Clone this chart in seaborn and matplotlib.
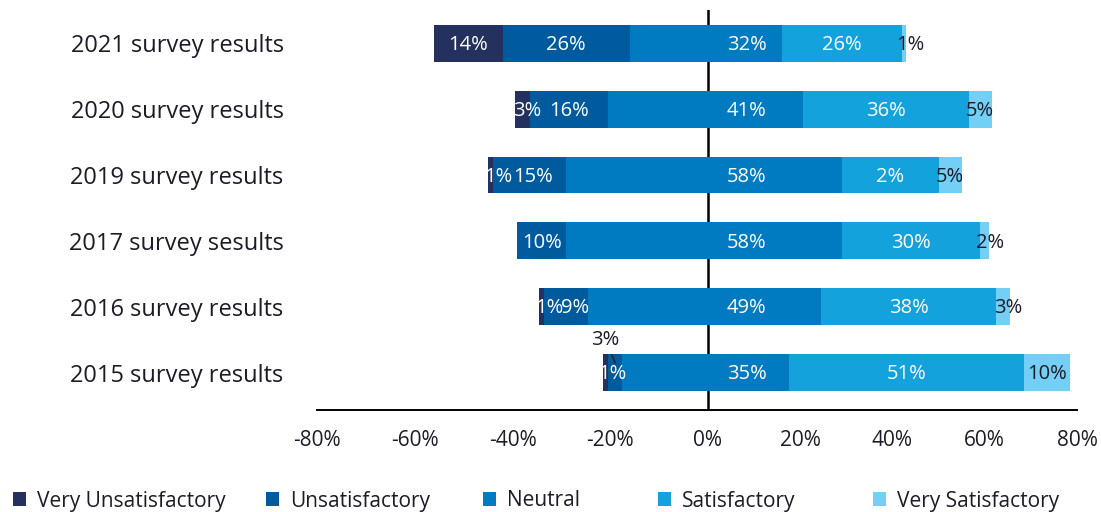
import numpy as np
import matplotlib
matplotlib.use("Agg")
import matplotlib.pyplot as plt
from matplotlib.patches import Patch
from matplotlib.ticker import FuncFormatter, NullLocator
import seaborn as sns

# ---------------- data ----------------
surveys = ["2021 survey results", "2020 survey results", "2019 survey results",
           "2017 survey sesults", "2016 survey results", "2015 survey results"]
very_unsat = [14, 3, 1, 0, 1, 1]
unsat = [26, 16, 15, 10, 9, 3]
neutral = [32, 41, 58, 58, 49, 35]
sat = [26, 36, 21, 30, 38, 51]
very_sat = [1, 5, 5, 2, 3, 10]

very_unsat_labels = ["14%", "3%", "1%", "", "1%", "1%"]
unsat_labels = ["26%", "16%", "15%", "10%", "9%", "3%"]
neutral_labels = ["32%", "41%", "58%", "58%", "49%", "35%"]
sat_labels = ["26%", "36%", "2%", "30%", "38%", "51%"]
very_sat_labels = ["1%", "5%", "5%", "2%", "3%", "10%"]

categories = ["Very Unsatisfactory", "Unsatisfactory", "Neutral",
              "Satisfactory", "Very Satisfactory"]
xticks = [-80, -60, -40, -20, 0, 20, 40, 60, 80]

# ---------------- style ----------------
colors = ["#24305e", "#005a9e", "#007bc1", "#14a2dc", "#74cff6"]
text_dark = "#1c1c28"

sns.set_style("white")
plt.rcParams["font.family"] = ["Open Sans", "DejaVu Sans"]

W, H = 1101, 512
left_px, zero_px, right_px = 317, 708, 1077
fig = plt.figure(figsize=(W / 100, H / 100), dpi=100)
ax = fig.add_axes([left_px / W, 1 - 410 / H, (right_px - left_px) / W, 400 / H])

vu = np.array(very_unsat, float)
u = np.array(unsat, float)
n = np.array(neutral, float)
s = np.array(sat, float)
vs = np.array(very_sat, float)

half = n / 2
left_neutral = -half
left_unsat = -(half + u)
left_vu = -(half + u + vu)
right_neutral = half
right_sat = half + s
right_vs = half + s + vs

layers = [(left_vu, colors[0]), (left_unsat, colors[1]), (left_neutral, colors[2]),
          (right_vs, colors[4]), (right_sat, colors[3]), (right_neutral, colors[2])]
for vals, col in layers:
    sns.barplot(x=vals, y=surveys, color=col, orient="h", width=0.56,
                saturation=1, errorbar=None, linewidth=0, ax=ax)

# piecewise-linear axis (left side is slightly stretched in the reference)
r = (zero_px - left_px) / (right_px - zero_px)


def fwd(x):
    x = np.asarray(x, float)
    return np.where(x < 0, x * r, x)


def inv(y):
    y = np.asarray(y, float)
    return np.where(y < 0, y / r, y)


ax.set_xscale("function", functions=(fwd, inv))
ax.set_xlim(-80, 80)
ax.set_xticks(xticks)
ax.xaxis.set_major_formatter(FuncFormatter(lambda v, p: f"{v:.0f}%"))
ax.xaxis.set_minor_locator(NullLocator())
ax.set_ylim(5.568, -0.506)

ax.axvline(0, color="black", lw=1.8, zorder=0.5)

for sp in ["top", "right", "left"]:
    ax.spines[sp].set_visible(False)
ax.spines["bottom"].set_color("black")
ax.spines["bottom"].set_linewidth(1.4)

ax.set_xlabel("")
ax.set_ylabel("")
ax.tick_params(axis="y", length=0, pad=24, labelsize=17, labelcolor=text_dark)
ax.tick_params(axis="x", length=13, width=1.3, pad=1.2, labelsize=15,
               direction="out", color="black", labelcolor=text_dark)

# ---------------- bar labels ----------------
label_fs = 14.5
offsets_px = {(0, 4): 6, (1, 0): 5, (2, 0): 8, (2, 1): 3, (3, 4): 5, (4, 0): 7,
              (4, 1): 9, (4, 4): 5, (5, 0): 7}
neutral_label_x = 8.4
dy = -1.2  # points (slightly below centre)

for i in range(len(surveys)):
    centers = [left_unsat[i] - vu[i] / 2, left_neutral[i] - u[i] / 2,
               neutral_label_x, half[i] + s[i] / 2, right_sat[i] + vs[i] / 2]
    labels = [very_unsat_labels[i], unsat_labels[i], neutral_labels[i],
              sat_labels[i], very_sat_labels[i]]
    for k in range(5):
        if not labels[k]:
            continue
        if i == 5 and k == 1:
            ax.annotate(labels[k], xy=(centers[k], i - 0.146),
                        xytext=(-7.2, 16.6), textcoords="offset points",
                        ha="center", va="center", fontsize=label_fs,
                        color=text_dark,
                        arrowprops=dict(arrowstyle="-", color=text_dark,
                                        lw=1.0, shrinkA=1, shrinkB=0))
            continue
        col = text_dark if k == 4 else "white"
        dx = offsets_px.get((i, k), 0) * 0.72
        ax.annotate(labels[k], xy=(centers[k], i), xytext=(dx, dy),
                    textcoords="offset points", ha="center", va="center",
                    fontsize=label_fs, color=col)

# ---------------- legend ----------------
legend_x_px = [13, 266, 483, 658, 873]
for cat, col, xp in zip(categories, colors, legend_x_px):
    fig.legend(handles=[Patch(facecolor=col, edgecolor="none", label=cat)],
               loc="center left", bbox_to_anchor=(xp / W, 1 - 501 / H),
               frameon=False, fontsize=15, handlelength=0.62, handleheight=0.62,
               handletextpad=0.55, borderpad=0, borderaxespad=0,
               labelcolor=text_dark)

fig.savefig("out.png", dpi=100)
